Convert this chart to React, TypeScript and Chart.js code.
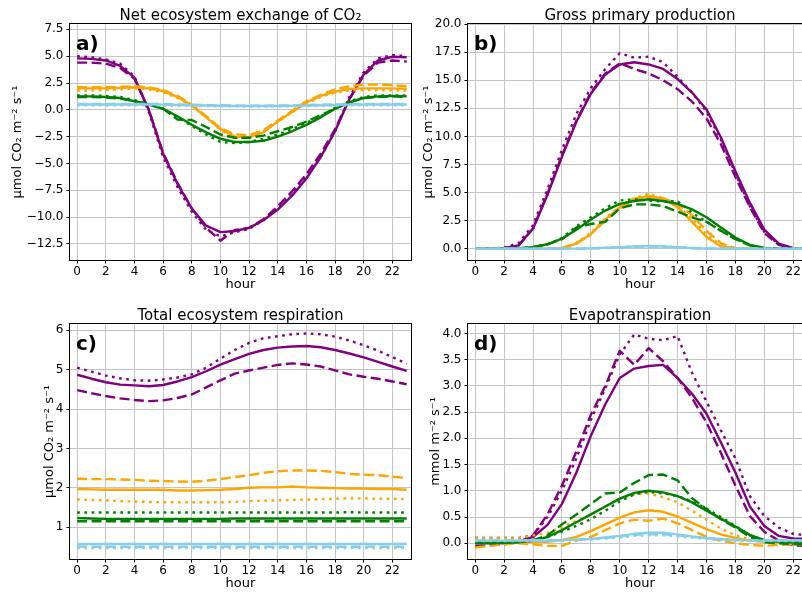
import React, { useEffect, useRef } from "react";
import { Chart, registerables } from "chart.js";
Chart.register(...registerables);

// ---------- categories & ticks ----------
const hours = [0, 1, 2, 3, 4, 5, 6, 7, 8, 9, 10, 11, 12, 13, 14, 15, 16, 17, 18, 19, 20, 21, 22, 23];
const xTickValues = [0, 2, 4, 6, 8, 10, 12, 14, 16, 18, 20, 22];
const aTickValues = [-12.5, -10, -7.5, -5, -2.5, 0, 2.5, 5, 7.5];
const bTickValues = [0, 2.5, 5, 7.5, 10, 12.5, 15, 17.5, 20];
const cTickValues = [1, 2, 3, 4, 5, 6];
const dTickValues = [0, 0.5, 1, 1.5, 2, 2.5, 3, 3.5, 4];

// ---------- a) Net ecosystem exchange of CO2 ----------
const aPurpleSolid = [4.8, 4.75, 4.6, 4.1, 3.0, 0.0, -4.1, -6.9, -9.2, -10.8, -11.4, -11.3, -11.0, -10.3, -9.3, -8.0, -6.4, -4.4, -2.0, 1.0, 3.3, 4.6, 4.95, 4.9];
const aPurpleDashed = [4.4, 4.4, 4.3, 3.9, 2.9, 0.0, -4.0, -6.8, -9.2, -11.0, -12.2, -11.2, -11.0, -10.2, -9.0, -7.6, -6.0, -4.1, -1.8, 1.0, 3.2, 4.4, 4.6, 4.5];
const aPurpleDotted = [5.0, 4.9, 4.7, 4.3, 3.1, -0.2, -4.4, -7.2, -9.5, -11.2, -11.8, -11.4, -11.1, -10.3, -9.2, -7.9, -6.3, -4.4, -2.0, 1.2, 3.5, 4.8, 5.1, 5.0];
const aOrangeSolid = [2.0, 2.0, 2.0, 2.05, 2.1, 2.0, 1.75, 1.2, 0.4, -0.7, -1.8, -2.5, -2.55, -2.1, -1.1, -0.2, 0.7, 1.3, 1.7, 1.95, 2.0, 2.0, 2.0, 1.95];
const aOrangeDashed = [2.1, 2.1, 2.1, 2.15, 2.2, 2.1, 1.85, 1.3, 0.5, -0.6, -1.7, -2.3, -2.35, -1.9, -1.0, -0.1, 0.8, 1.4, 1.9, 2.2, 2.35, 2.35, 2.3, 2.2];
const aOrangeDotted = [1.8, 1.8, 1.85, 1.9, 2.0, 1.9, 1.65, 1.1, 0.4, -0.6, -1.9, -2.6, -2.6, -2.0, -1.1, -0.2, 0.6, 1.2, 1.6, 1.8, 1.85, 1.85, 1.8, 1.8];
const aGreenSolid = [1.25, 1.25, 1.2, 1.1, 0.8, 0.5, 0.1, -0.6, -1.4, -2.1, -2.7, -3.0, -3.0, -2.9, -2.5, -2.0, -1.4, -0.7, 0.1, 0.7, 1.1, 1.25, 1.3, 1.25];
const aGreenDashed = [1.2, 1.2, 1.15, 1.05, 0.8, 0.5, 0.1, -0.9, -0.95, -1.6, -2.3, -2.6, -2.6, -2.4, -2.0, -1.6, -1.1, -0.5, 0.1, 0.7, 1.1, 1.2, 1.25, 1.2];
const aGreenDotted = [1.35, 1.35, 1.3, 1.2, 0.9, 0.55, 0.1, -0.7, -1.5, -2.3, -3.0, -3.1, -3.0, -2.7, -2.3, -1.8, -1.2, -0.6, 0.2, 0.8, 1.2, 1.35, 1.35, 1.35];
const aBlueSolid = [0.5, 0.5, 0.5, 0.5, 0.5, 0.5, 0.48, 0.45, 0.42, 0.4, 0.38, 0.36, 0.35, 0.35, 0.36, 0.38, 0.4, 0.43, 0.46, 0.48, 0.5, 0.5, 0.5, 0.5];
const aBlueDashed = [0.55, 0.55, 0.55, 0.55, 0.55, 0.55, 0.53, 0.5, 0.47, 0.44, 0.42, 0.4, 0.39, 0.39, 0.4, 0.42, 0.45, 0.48, 0.51, 0.53, 0.55, 0.55, 0.55, 0.55];
const aBlueDotted = [0.42, 0.42, 0.42, 0.42, 0.42, 0.42, 0.41, 0.39, 0.37, 0.35, 0.33, 0.32, 0.31, 0.31, 0.32, 0.33, 0.35, 0.37, 0.39, 0.41, 0.42, 0.42, 0.42, 0.42];

// ---------- b) Gross primary production ----------
const bPurpleSolid = [0, 0, 0.05, 0.3, 1.8, 4.8, 8.2, 11.3, 13.8, 15.5, 16.4, 16.6, 16.4, 16.0, 15.1, 13.9, 12.4, 9.9, 6.9, 4.1, 1.7, 0.45, 0.05, 0];
const bPurpleDashed = [0, 0, 0.05, 0.3, 1.8, 4.9, 8.3, 11.4, 13.9, 15.6, 16.5, 16.0, 15.6, 15.0, 14.2, 13.1, 11.6, 9.3, 6.4, 3.7, 1.4, 0.35, 0.03, 0];
const bPurpleDotted = [0, 0, 0.1, 0.5, 2.1, 5.3, 8.8, 12.0, 14.3, 16.0, 17.4, 17.0, 17.1, 16.6, 15.3, 13.9, 12.2, 9.7, 6.7, 3.8, 1.5, 0.4, 0.05, 0];
const bOrangeSolid = [0, 0, 0, 0, 0, 0, 0.05, 0.45, 1.3, 2.6, 3.7, 4.45, 4.7, 4.45, 3.7, 2.4, 1.05, 0.2, 0, 0, 0, 0, 0, 0];
const bOrangeDashed = [0, 0, 0, 0, 0, 0, 0.05, 0.5, 1.3, 2.5, 3.6, 4.3, 4.6, 4.5, 4.0, 3.0, 1.6, 0.5, 0.05, 0, 0, 0, 0, 0];
const bOrangeDotted = [0, 0, 0, 0, 0, 0, 0.05, 0.5, 1.4, 2.7, 3.8, 4.5, 4.9, 4.5, 3.8, 2.7, 1.3, 0.3, 0, 0, 0, 0, 0, 0];
const bGreenSolid = [0, 0, 0, 0.02, 0.15, 0.4, 0.9, 1.7, 2.6, 3.4, 4.0, 4.25, 4.4, 4.25, 4.0, 3.5, 2.8, 1.9, 1.0, 0.35, 0.08, 0.01, 0, 0];
const bGreenDashed = [0, 0, 0, 0.02, 0.15, 0.4, 0.85, 1.9, 2.2, 2.4, 3.6, 3.95, 3.95, 3.8, 3.3, 2.8, 2.4, 1.6, 0.85, 0.3, 0.06, 0.01, 0, 0];
const bGreenDotted = [0, 0, 0, 0.02, 0.15, 0.4, 0.95, 2.0, 2.8, 3.6, 4.3, 4.4, 4.3, 4.2, 4.25, 3.2, 2.4, 1.6, 0.9, 0.3, 0.06, 0.01, 0, 0];
const bBlueSolid = [0, 0, 0, 0, 0, 0, 0, 0.01, 0.04, 0.08, 0.14, 0.2, 0.24, 0.2, 0.13, 0.06, 0.02, 0, 0, 0, 0, 0, 0, 0];
const bBlueDashed = [0, 0, 0, 0, 0, 0, 0, 0.01, 0.03, 0.06, 0.11, 0.16, 0.19, 0.16, 0.1, 0.05, 0.02, 0, 0, 0, 0, 0, 0, 0];
const bBlueDotted = [0, 0, 0, 0, 0, 0, 0, 0.01, 0.04, 0.09, 0.15, 0.21, 0.25, 0.21, 0.14, 0.07, 0.02, 0, 0, 0, 0, 0, 0, 0];

// ---------- c) Total ecosystem respiration ----------
const cPurpleSolid = [4.87, 4.77, 4.68, 4.62, 4.6, 4.58, 4.61, 4.7, 4.81, 4.96, 5.13, 5.27, 5.4, 5.5, 5.56, 5.59, 5.6, 5.57, 5.5, 5.41, 5.31, 5.2, 5.08, 4.97];
const cPurpleDashed = [4.48, 4.4, 4.33, 4.27, 4.23, 4.2, 4.22, 4.28, 4.37, 4.55, 4.73, 4.9, 4.98, 5.05, 5.12, 5.16, 5.13, 5.08, 4.98, 4.88, 4.82, 4.77, 4.7, 4.63];
const cPurpleDotted = [5.05, 4.95, 4.85, 4.78, 4.73, 4.72, 4.75, 4.8, 4.88, 5.05, 5.28, 5.5, 5.68, 5.8, 5.85, 5.9, 5.92, 5.9, 5.84, 5.74, 5.62, 5.48, 5.32, 5.15];
const cOrangeSolid = [1.97, 1.96, 1.95, 1.95, 1.95, 1.95, 1.95, 1.93, 1.93, 1.94, 1.95, 1.97, 2.0, 2.01, 2.01, 2.03, 2.01, 2.0, 1.99, 1.98, 1.98, 1.97, 1.97, 1.95];
const cOrangeDashed = [2.23, 2.22, 2.22, 2.21, 2.2, 2.18, 2.17, 2.16, 2.15, 2.18, 2.22, 2.27, 2.32, 2.38, 2.42, 2.44, 2.44, 2.43, 2.4, 2.35, 2.33, 2.32, 2.28, 2.25];
const cOrangeDotted = [1.7, 1.69, 1.68, 1.66, 1.65, 1.64, 1.63, 1.63, 1.63, 1.63, 1.63, 1.64, 1.66, 1.67, 1.68, 1.69, 1.7, 1.71, 1.72, 1.73, 1.73, 1.72, 1.72, 1.71];
const cGreenSolid = [1.23, 1.22, 1.21, 1.21, 1.21, 1.21, 1.21, 1.21, 1.21, 1.21, 1.21, 1.22, 1.22, 1.22, 1.22, 1.22, 1.22, 1.22, 1.22, 1.22, 1.22, 1.22, 1.22, 1.22];
const cGreenDashed = [1.15, 1.15, 1.15, 1.15, 1.15, 1.15, 1.15, 1.15, 1.15, 1.15, 1.15, 1.15, 1.15, 1.15, 1.15, 1.15, 1.15, 1.15, 1.15, 1.15, 1.15, 1.15, 1.15, 1.15];
const cGreenDotted = [1.37, 1.37, 1.37, 1.37, 1.37, 1.37, 1.37, 1.37, 1.37, 1.37, 1.37, 1.37, 1.37, 1.37, 1.37, 1.37, 1.37, 1.37, 1.37, 1.38, 1.37, 1.37, 1.37, 1.37];
const cBlueSolid = [0.57, 0.57, 0.57, 0.57, 0.57, 0.57, 0.57, 0.57, 0.57, 0.57, 0.57, 0.57, 0.57, 0.57, 0.57, 0.57, 0.57, 0.57, 0.57, 0.57, 0.57, 0.57, 0.57, 0.57];
const cBlueDashed = [0.5, 0.5, 0.5, 0.5, 0.5, 0.5, 0.5, 0.5, 0.5, 0.5, 0.5, 0.5, 0.5, 0.5, 0.5, 0.5, 0.5, 0.5, 0.5, 0.5, 0.5, 0.5, 0.5, 0.5];
const cBlueDotted = [0.47, 0.47, 0.47, 0.47, 0.47, 0.47, 0.47, 0.47, 0.47, 0.47, 0.47, 0.47, 0.47, 0.47, 0.47, 0.47, 0.47, 0.47, 0.47, 0.47, 0.47, 0.47, 0.47, 0.47];

// ---------- d) Evapotranspiration ----------
const dPurpleSolid = [0.02, 0.01, 0.0, 0.03, 0.12, 0.35, 0.75, 1.35, 2.05, 2.65, 3.15, 3.33, 3.38, 3.4, 3.15, 2.85, 2.47, 1.92, 1.35, 0.7, 0.33, 0.14, 0.09, 0.08];
const dPurpleDashed = [-0.05, -0.04, -0.02, 0.02, 0.15, 0.55, 1.1, 1.75, 2.45, 3.0, 3.67, 3.4, 3.72, 3.47, 3.15, 2.77, 2.3, 1.72, 1.1, 0.52, 0.22, 0.05, -0.04, -0.05];
const dPurpleDotted = [0.1, 0.1, 0.1, 0.1, 0.15, 0.5, 1.0, 1.62, 2.35, 2.95, 3.6, 3.98, 3.9, 3.87, 3.95, 3.25, 2.7, 2.15, 1.62, 0.9, 0.52, 0.3, 0.18, 0.15];
const dOrangeSolid = [0.05, 0.04, 0.03, 0.03, 0.03, 0.03, 0.06, 0.12, 0.23, 0.36, 0.49, 0.59, 0.63, 0.6, 0.51, 0.39, 0.27, 0.17, 0.1, 0.05, 0.03, 0.02, 0.02, 0.02];
const dOrangeDashed = [-0.08, -0.05, -0.02, 0.0, -0.02, -0.05, -0.05, 0.05, 0.12, 0.25, 0.38, 0.45, 0.43, 0.47, 0.38, 0.25, 0.12, 0.05, 0.0, -0.03, -0.05, -0.03, -0.02, -0.02];
const dOrangeDotted = [0.1, 0.1, 0.1, 0.1, 0.15, 0.2, 0.3, 0.43, 0.55, 0.7, 0.85, 0.93, 0.95, 0.88, 0.78, 0.62, 0.45, 0.28, 0.15, 0.08, 0.05, 0.04, 0.03, 0.03];
const dGreenSolid = [0.0, 0.0, 0.01, 0.02, 0.05, 0.12, 0.25, 0.4, 0.55, 0.7, 0.85, 0.96, 1.0, 0.97, 0.9, 0.78, 0.62, 0.47, 0.32, 0.16, 0.06, 0.03, 0.02, 0.02];
const dGreenDashed = [0.02, 0.02, 0.02, 0.03, 0.06, 0.15, 0.36, 0.55, 0.75, 0.95, 0.97, 1.15, 1.3, 1.31, 1.2, 0.86, 0.65, 0.46, 0.3, 0.12, 0.02, 0.0, -0.02, -0.02];
const dGreenDotted = [0.03, 0.03, 0.03, 0.04, 0.06, 0.12, 0.22, 0.33, 0.46, 0.62, 0.8, 0.93, 0.98, 0.95, 0.9, 0.8, 0.66, 0.5, 0.33, 0.15, 0.06, 0.03, 0.02, 0.02];
const dBlueSolid = [0.05, 0.05, 0.05, 0.05, 0.05, 0.05, 0.06, 0.07, 0.08, 0.11, 0.14, 0.18, 0.2, 0.2, 0.17, 0.13, 0.1, 0.08, 0.06, 0.05, 0.05, 0.05, 0.05, 0.05];
const dBlueDashed = [0.06, 0.06, 0.06, 0.06, 0.06, 0.06, 0.06, 0.07, 0.08, 0.1, 0.13, 0.16, 0.17, 0.17, 0.15, 0.12, 0.1, 0.08, 0.07, 0.06, 0.06, 0.06, 0.06, 0.06];
const dBlueDotted = [0.04, 0.04, 0.04, 0.04, 0.04, 0.04, 0.05, 0.06, 0.07, 0.09, 0.11, 0.14, 0.15, 0.15, 0.13, 0.11, 0.08, 0.06, 0.05, 0.04, 0.04, 0.04, 0.04, 0.04];

// ---------- styling ----------
const COLORS: Record<string, string> = { purple: "#800080", orange: "#ffa500", green: "#008000", blue: "#87ceeb" };
const DASHES: Record<string, number[]> = { solid: [], dashed: [10, 4.4], dotted: [2.7, 4.5] };
const FONT = '"DejaVu Sans", sans-serif';

type Series = { color: string; style: string; data: number[] };
const mk = (color: string, style: string, data: number[]): Series => ({ color, style, data });

const minusFmt1 = (v: number) => v.toFixed(1).replace("-", "\u2212");
const intFmt = (v: number) => String(Math.round(v));

const panels = [
  {
    key: "a", label: "a)", title: "Net ecosystem exchange of CO\u2082", yTitle: "\u00b5mol CO\u2082 m\u207b\u00b2 s\u207b\u00b9",
    yMin: -14, yMax: 8, yTicks: aTickValues, fmt: minusFmt1, xMin: -0.5, xMax: 23.3,
    left: 0, top: 0, width: 415, height: 296, padTop: 24, padRight: 4, yW: 70, xH: 36, yTitleOff: 52,
    series: [
      mk("purple", "solid", aPurpleSolid), mk("purple", "dashed", aPurpleDashed), mk("purple", "dotted", aPurpleDotted),
      mk("orange", "solid", aOrangeSolid), mk("orange", "dashed", aOrangeDashed), mk("orange", "dotted", aOrangeDotted),
      mk("green", "solid", aGreenSolid), mk("green", "dashed", aGreenDashed), mk("green", "dotted", aGreenDotted),
      mk("blue", "solid", aBlueSolid), mk("blue", "dashed", aBlueDashed), mk("blue", "dotted", aBlueDotted),
    ],
  },
  {
    key: "b", label: "b)", title: "Gross primary production", yTitle: "\u00b5mol CO\u2082 m\u207b\u00b2 s\u207b\u00b9",
    yMin: -1, yMax: 20, yTicks: bTickValues, fmt: minusFmt1, xMin: -0.5, xMax: 23.3,
    left: 398, top: 0, width: 418, height: 296, padTop: 24, padRight: 4, yW: 70, xH: 36, yTitleOff: 39,
    series: [
      mk("purple", "solid", bPurpleSolid), mk("purple", "dashed", bPurpleDashed), mk("purple", "dotted", bPurpleDotted),
      mk("orange", "solid", bOrangeSolid), mk("orange", "dashed", bOrangeDashed), mk("orange", "dotted", bOrangeDotted),
      mk("green", "solid", bGreenSolid), mk("green", "dashed", bGreenDashed), mk("green", "dotted", bGreenDotted),
      mk("blue", "solid", bBlueSolid), mk("blue", "dashed", bBlueDashed), mk("blue", "dotted", bBlueDotted),
    ],
  },
  {
    key: "c", label: "c)", title: "Total ecosystem respiration", yTitle: "\u00b5mol CO\u2082 m\u207b\u00b2 s\u207b\u00b9",
    yMin: 0.19, yMax: 6.16, yTicks: cTickValues, fmt: intFmt, xMin: -0.5, xMax: 23.3,
    left: 0, top: 296, width: 415, height: 296, padTop: 28, padRight: 4, yW: 70, xH: 33, yTitleOff: 20,
    series: [
      mk("purple", "solid", cPurpleSolid), mk("purple", "dashed", cPurpleDashed), mk("purple", "dotted", cPurpleDotted),
      mk("orange", "solid", cOrangeSolid), mk("orange", "dashed", cOrangeDashed), mk("orange", "dotted", cOrangeDotted),
      mk("green", "solid", cGreenSolid), mk("green", "dashed", cGreenDashed), mk("green", "dotted", cGreenDotted),
      mk("blue", "solid", cBlueSolid), mk("blue", "dashed", cBlueDashed), mk("blue", "dotted", cBlueDotted),
    ],
  },
  {
    key: "d", label: "d)", title: "Evapotranspiration", yTitle: "mmol m\u207b\u00b2 s\u207b\u00b9",
    yMin: -0.3, yMax: 4.18, yTicks: dTickValues, fmt: minusFmt1, xMin: -0.5, xMax: 23.3,
    left: 398, top: 296, width: 418, height: 296, padTop: 28, padRight: 4, yW: 70, xH: 33, yTitleOff: 32,
    series: [
      mk("purple", "solid", dPurpleSolid), mk("purple", "dashed", dPurpleDashed), mk("purple", "dotted", dPurpleDotted),
      mk("orange", "solid", dOrangeSolid), mk("orange", "dashed", dOrangeDashed), mk("orange", "dotted", dOrangeDotted),
      mk("green", "solid", dGreenSolid), mk("green", "dashed", dGreenDashed), mk("green", "dotted", dGreenDotted),
      mk("blue", "solid", dBlueSolid), mk("blue", "dashed", dBlueDashed), mk("blue", "dotted", dBlueDotted),
    ],
  },
];

const decoPlugin = {
  id: "deco",
  afterDatasetsDraw(chart: any, _args: any, opts: any) {
    const { ctx, chartArea: ca } = chart;
    ctx.save();
    ctx.strokeStyle = "#000";
    ctx.lineWidth = 1;
    ctx.setLineDash([]);
    ctx.strokeRect(Math.round(ca.left) - 0.5, Math.round(ca.top) - 0.5, Math.round(ca.right - ca.left) + 1, Math.round(ca.bottom - ca.top) + 1);
    const cx = (ca.left + ca.right) / 2;
    ctx.fillStyle = "#000";
    ctx.textAlign = "center";
    ctx.textBaseline = "alphabetic";
    ctx.font = `15px ${FONT}`;
    ctx.fillText(opts.title, cx, ca.top - 4.5);
    ctx.font = `13px ${FONT}`;
    ctx.fillText("hour", cx, ca.bottom + 28);
    ctx.font = `bold 20px ${FONT}`;
    ctx.textAlign = "left";
    ctx.fillText(opts.label, ca.left + 6, ca.top + 25.5);
    ctx.translate(ca.left - opts.yTitleOff, (ca.top + ca.bottom) / 2);
    ctx.rotate(-Math.PI / 2);
    ctx.textAlign = "center";
    ctx.textBaseline = "middle";
    ctx.font = `13px ${FONT}`;
    ctx.fillText(opts.yTitle, 0, 0);
    ctx.restore();
  },
};

function Panel({ p }: { p: (typeof panels)[number] }) {
  const ref = useRef<HTMLCanvasElement | null>(null);
  useEffect(() => {
    if (!ref.current) return;
    const n = p.series.length;
    const datasets = p.series.map((s, i) => ({
      data: hours.map((h, j) => ({ x: h, y: s.data[j] })),
      borderColor: COLORS[s.color],
      backgroundColor: COLORS[s.color],
      borderWidth: 2.4,
      borderDash: DASHES[s.style],
      borderCapStyle: "butt" as const,
      borderJoinStyle: "round" as const,
      pointRadius: 0,
      tension: 0,
      fill: false,
      order: n - i,
    }));
    const chart = new Chart(ref.current, {
      type: "line",
      data: { datasets },
      plugins: [decoPlugin as any],
      options: {
        responsive: false,
        animation: false,
        events: [],
        layout: { padding: { top: p.padTop, right: p.padRight, left: 0, bottom: 0 } },
        plugins: {
          legend: { display: false },
          tooltip: { enabled: false },
          title: { display: false },
          deco: { title: p.title, label: p.label, yTitle: p.yTitle, yTitleOff: p.yTitleOff },
        } as any,
        scales: {
          x: {
            type: "linear",
            min: p.xMin,
            max: p.xMax,
            bounds: "data",
            afterBuildTicks: (s: any) => { s.ticks = xTickValues.map((v) => ({ value: v })); },
            afterFit: (s: any) => { s.height = p.xH; },
            grid: { color: "#c4c4c4", lineWidth: 1, tickColor: "#000", tickLength: 3.5, tickWidth: 1 },
            border: { display: false },
            ticks: {
              autoSkip: false, maxRotation: 0, padding: 1, color: "#000",
              font: { family: FONT, size: 12 },
              callback: (v: any) => intFmt(Number(v)),
            },
          },
          y: {
            type: "linear",
            min: p.yMin,
            max: p.yMax,
            bounds: "data",
            afterBuildTicks: (s: any) => { s.ticks = p.yTicks.map((v) => ({ value: v })); },
            afterFit: (s: any) => { s.width = p.yW; },
            grid: { color: "#c4c4c4", lineWidth: 1, tickColor: "#000", tickLength: 3.5, tickWidth: 1 },
            border: { display: false },
            ticks: {
              autoSkip: false, padding: 3, color: "#000",
              font: { family: FONT, size: 12 },
              callback: (v: any) => p.fmt(Number(v)),
            },
          },
        },
      } as any,
    });
    return () => chart.destroy();
  }, [p]);
  return (
    <canvas
      ref={ref}
      width={p.width}
      height={p.height}
      style={{ position: "absolute", left: p.left, top: p.top, width: p.width, height: p.height }}
    />
  );
}

export default function App() {
  return (
    <div style={{ position: "fixed", left: 0, top: 0, width: 802, height: 592, overflow: "hidden", background: "#fff" }}>
      {panels.map((p) => (
        <Panel key={p.key} p={p} />
      ))}
    </div>
  );
}
